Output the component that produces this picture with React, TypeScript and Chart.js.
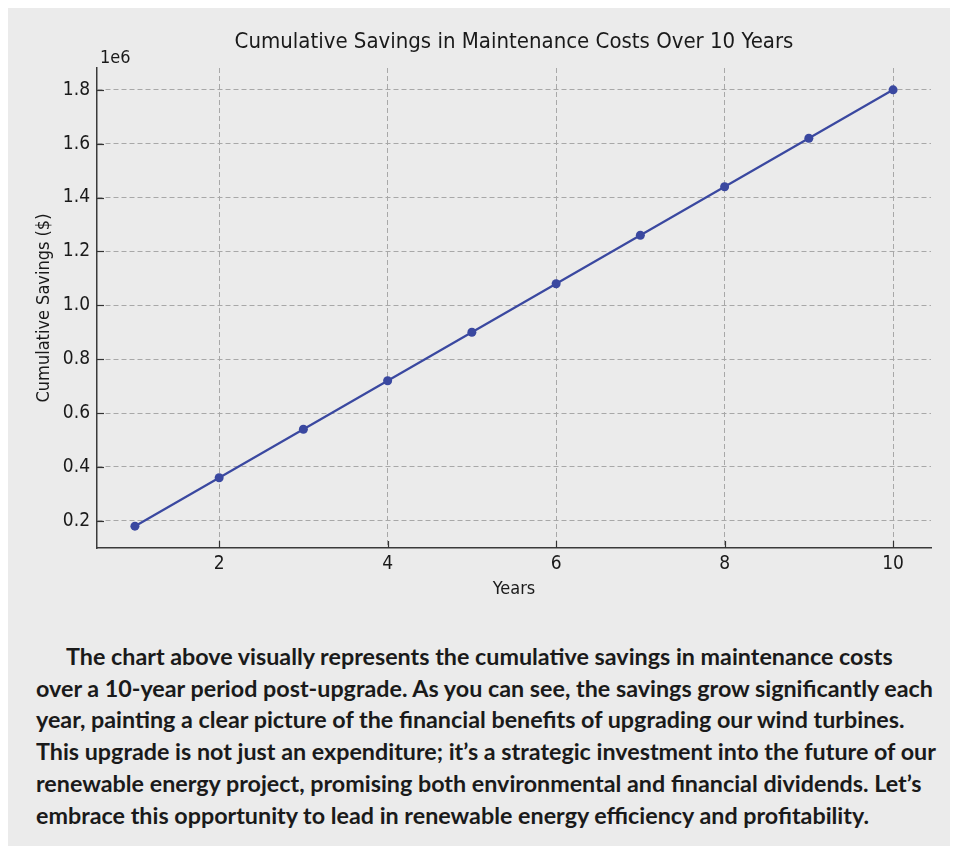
import React, { useEffect, useRef } from "react";
import { Chart, registerables } from "chart.js";

Chart.register(...registerables);

const years = [1, 2, 3, 4, 5, 6, 7, 8, 9, 10];
const savings = [180000, 360000, 540000, 720000, 900000, 1080000, 1260000, 1440000, 1620000, 1800000];
const xTickValues = [2, 4, 6, 8, 10];
const yTickValues = [200000, 400000, 600000, 800000, 1000000, 1200000, 1400000, 1600000, 1800000];

const chartTitle = "Cumulative Savings in Maintenance Costs Over 10 Years";
const xTitle = "Years";
const yTitle = "Cumulative Savings ($)";
const offsetText = "1e6";

const paragraphLines = [
  "The chart above visually represents the cumulative savings in maintenance costs",
  "over a 10-year period post-upgrade. As you can see, the savings grow significantly each",
  "year, painting a clear picture of the financial benefits of upgrading our wind turbines.",
  "This upgrade is not just an expenditure; it\u2019s a strategic investment into the future of our",
  "renewable energy project, promising both environmental and financial dividends. Let\u2019s",
  "embrace this opportunity to lead in renewable energy efficiency and profitability.",
];

const FONT = "'Liberation Sans Narrow', 'DejaVu Sans Condensed', 'Roboto', sans-serif";
const CW = 948;
const CH = 610;

export default function App() {
  const ref = useRef<HTMLCanvasElement | null>(null);

  useEffect(() => {
    if (!ref.current) return;
    const decorations = {
      id: "decorations",
      afterDatasetsDraw(chart: any) {
        const { ctx, chartArea, scales } = chart;
        ctx.save();
        ctx.strokeStyle = "#333333";
        ctx.lineWidth = 1.2;
        scales.y.ticks.forEach((t: any) => {
          const p = Math.round(scales.y.getPixelForValue(t.value)) + 0.5;
          ctx.beginPath();
          ctx.moveTo(chartArea.left, p);
          ctx.lineTo(chartArea.left + 7, p);
          ctx.stroke();
        });
        scales.x.ticks.forEach((t: any) => {
          const p = Math.round(scales.x.getPixelForValue(t.value)) + 0.5;
          ctx.beginPath();
          ctx.moveTo(p, chartArea.bottom);
          ctx.lineTo(p, chartArea.bottom - 7);
          ctx.stroke();
        });
        ctx.fillStyle = "#1a1a1a";
        ctx.font = `22px ${FONT}`;
        ctx.textAlign = "center";
        ctx.textBaseline = "middle";
        ctx.fillText(chartTitle, (chartArea.left + chartArea.right) / 2, 36);
        ctx.font = `18px ${FONT}`;
        ctx.textAlign = "left";
        ctx.fillText(offsetText, chartArea.left + 3, 52.5);
        ctx.restore();
      },
    };

    const chart = new Chart(ref.current, {
      type: "line",
      data: {
        datasets: [
          {
            data: years.map((x, i) => ({ x, y: savings[i] })),
            borderColor: "#3a48a0",
            backgroundColor: "#3a48a0",
            borderWidth: 2.2,
            pointRadius: 4.5,
            pointHoverRadius: 4.5,
            pointBorderWidth: 0,
            fill: false,
            tension: 0,
          },
        ],
      },
      options: {
        responsive: false,
        animation: false,
        layout: { padding: { top: 62, right: 23, left: 0, bottom: 0 } },
        plugins: {
          legend: { display: false },
          tooltip: { enabled: false },
          title: { display: false },
        },
        scales: {
          x: {
            type: "linear",
            min: 0.55,
            max: 10.45,
            afterBuildTicks: (s: any) => {
              s.ticks = xTickValues.map((v) => ({ value: v }));
            },
            afterFit: (s: any) => {
              s.height = CH - 542;
            },
            grid: {
              color: "#a8a8a8",
              lineWidth: 1,
              drawTicks: false,
            },
            border: { display: true, color: "#3a3a3a", width: 1.5, dash: [5, 3] },
            ticks: {
              color: "#1a1a1a",
              font: { family: FONT, size: 19 },
              padding: 5,
              maxRotation: 0,
              callback: (v: any) => String(v),
            },
            title: {
              display: true,
              text: xTitle,
              color: "#1a1a1a",
              font: { family: FONT, size: 18 },
              padding: { top: 0, bottom: 16 },
            },
          },
          y: {
            type: "linear",
            min: 99000,
            max: 1881000,
            afterBuildTicks: (s: any) => {
              s.ticks = yTickValues.map((v) => ({ value: v }));
            },
            afterFit: (s: any) => {
              s.width = 91;
            },
            grid: {
              color: "#a8a8a8",
              lineWidth: 1,
              drawTicks: false,
            },
            border: { display: true, color: "#3a3a3a", width: 1.5, dash: [5, 3] },
            ticks: {
              color: "#1a1a1a",
              font: { family: FONT, size: 19 },
              padding: 7,
              callback: (v: any) => (Number(v) / 1e6).toFixed(1),
            },
            title: {
              display: true,
              text: yTitle,
              color: "#1a1a1a",
              font: { family: FONT, size: 18 },
              padding: { top: 28, bottom: 0 },
            },
          },
        },
      },
      plugins: [decorations],
    } as any);
    return () => chart.destroy();
  }, []);

  return (
    <div
      style={{
        margin: "-2px",
        width: 948,
        height: 842,
        background: "#ebebeb",
        position: "relative",
        overflow: "hidden",
      }}
    >
      <canvas ref={ref} width={CW} height={CH} style={{ display: "block", width: CW, height: CH }} />
      <div
        style={{
          paddingTop: 25,
          paddingLeft: 30,
          fontFamily: "Lato, 'Open Sans', sans-serif",
          fontWeight: 700,
          fontSize: 23.3,
          lineHeight: "31.7px",
          color: "#1a1a1a",
          whiteSpace: "nowrap",
        }}
      >
        {paragraphLines.map((line, i) => (
          <div key={i} style={{ textIndent: i === 0 ? 30 : 0 }}>
            {line}
          </div>
        ))}
      </div>
    </div>
  );
}
